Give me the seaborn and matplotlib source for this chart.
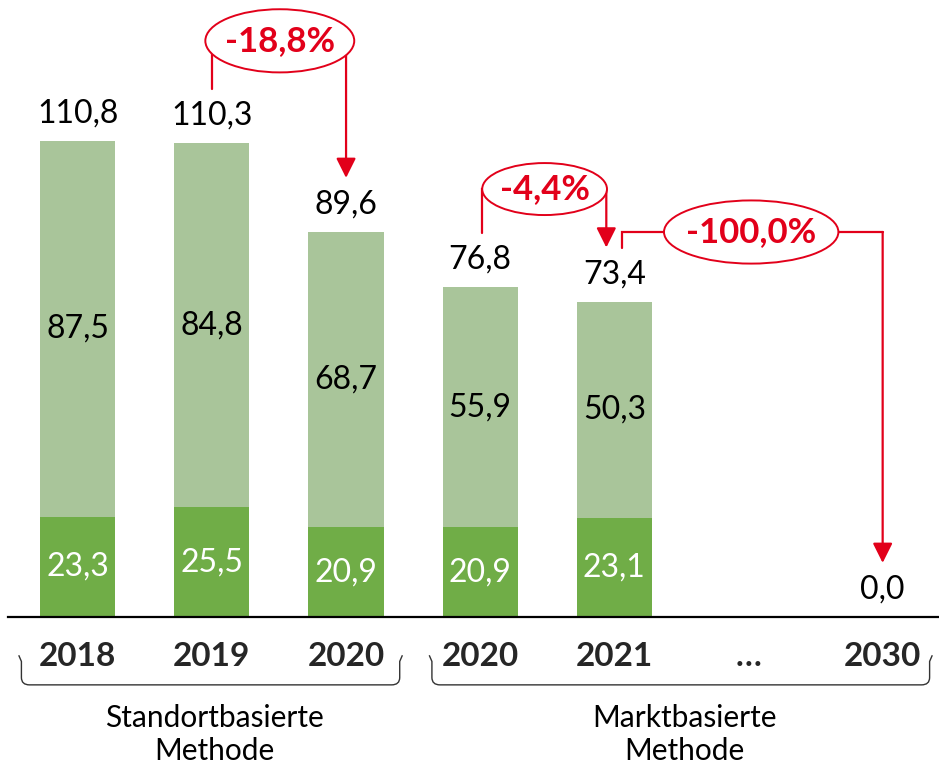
import matplotlib
matplotlib.use("Agg")
import matplotlib.pyplot as plt
from matplotlib.patches import Ellipse, PathPatch
from matplotlib.path import Path
import matplotlib.transforms as mtransforms
import seaborn as sns
import pandas as pd
import numpy as np

# Data
keys = ["2018", "2019", "2020 S", "2020 M", "2021", "gap", "2030"]
tick_labels = ["2018", "2019", "2020", "2020", "2021", "…", "2030"]
totals = [110.8, 110.3, 89.6, 76.8, 73.4, np.nan, 0.0]
dark_part = [23.3, 25.5, 20.9, 20.9, 23.1, np.nan, np.nan]
light_part = [87.5, 84.8, 68.7, 55.9, 50.3, np.nan, np.nan]
groups = ["Standortbasierte\nMethode", "Marktbasierte\nMethode"]
changes = ["-18,8%", "-4,4%", "-100,0%"]

LIGHT = "#A9C59A"
DARK = "#70AD47"
RED = "#E2001A"

df = pd.DataFrame({"key": keys, "total": totals, "dark": dark_part, "light": light_part})


def fmt(v):
    return f"{v:.1f}".replace(".", ",")


sns.set_style("white")
plt.rcParams["font.family"] = ["Lato", "DejaVu Sans"]

fig = plt.figure(figsize=(9.39, 7.63), dpi=100)
ax = fig.add_axes([8 / 939, 146 / 763, 931 / 939, 617 / 763])

sns.barplot(data=df, x="key", y="total", order=keys, color=LIGHT, saturation=1,
            width=0.56, linewidth=0, ax=ax)
sns.barplot(data=df, x="key", y="dark", order=keys, color=DARK, saturation=1,
            width=0.56, linewidth=0, ax=ax)

ax.set_xlim(-0.52, 6.42)
ax.set_ylim(0, 143.6)
ax.set_xlabel("")
ax.set_ylabel("")
ax.set_yticks([])
ax.set_xticks(range(len(keys)))
ax.set_xticklabels(tick_labels, fontsize=24, fontweight="bold")
ax.tick_params(axis="x", length=0, pad=18)
for s in ["top", "left", "right"]:
    ax.spines[s].set_visible(False)
ax.spines["bottom"].set_color("black")
ax.spines["bottom"].set_linewidth(1.6)

# value labels
for i, (t, d, l) in enumerate(zip(totals, dark_part, light_part)):
    if not np.isnan(t):
        ax.text(i, t + 6.3, fmt(t), ha="center", va="center", fontsize=23, color="black")
    if not np.isnan(d):
        ax.text(i, d / 2, fmt(d), ha="center", va="center", fontsize=23, color="white")
        ax.text(i, d + l / 2, fmt(l), ha="center", va="center", fontsize=23, color="black")

# change bridges: (x start, y start, x end, y tip, ellipse x, ellipse y, width, height)
bridges = [
    (1.0, totals[1] + 12.6, 2.0, totals[2] + 12.6, 1.506, 134.1, 1.11, 14.7),
    (3.01, totals[3] + 12.6, 3.94, totals[4] + 12.6, 3.48, 99.6, 0.93, 12.1),
    (4.06, totals[4] + 12.5, 6.0, totals[6] + 12.6, 5.02, 89.6, 1.30, 14.7),
]
for (x0, y0, x1, y1, ex, ey, ew, eh), label in zip(bridges, changes):
    ax.plot([x0, x0, x1], [y0, ey, ey], color=RED, lw=1.6, zorder=4,
            solid_joinstyle="miter")
    ax.annotate("", xy=(x1, y1), xytext=(x1, ey),
                arrowprops=dict(arrowstyle="-|>,head_length=0.6,head_width=0.3",
                                color=RED, lw=1.6, shrinkA=0, shrinkB=0,
                                mutation_scale=20),
                zorder=4)
    ax.add_patch(Ellipse((ex, ey), ew, eh, facecolor="white", edgecolor=RED,
                         lw=1.4, zorder=5))
    ax.text(ex, ey, label, ha="center", va="center", fontsize=25,
            fontweight="bold", color=RED, zorder=6)

# group braces below the year labels
trans = mtransforms.blended_transform_factory(ax.transData, ax.transAxes)
yt, yb = -0.062, -0.110
for (xa, xb), name in zip([(-0.42, 2.40), (2.64, 6.35)], groups):
    d = 0.06
    verts = [(xa - 0.02, yt), (xa, yt - 0.01), (xa, yb + 0.012), (xa, yb), (xa + d, yb),
             (xb - d, yb), (xb, yb), (xb, yb + 0.012), (xb, yt - 0.01), (xb + 0.02, yt)]
    codes = [Path.MOVETO, Path.LINETO, Path.LINETO, Path.CURVE3, Path.CURVE3,
             Path.LINETO, Path.CURVE3, Path.CURVE3, Path.LINETO, Path.LINETO]
    ax.add_patch(PathPatch(Path(verts, codes), transform=trans, fill=False,
                           edgecolor="#333333", lw=1.0, clip_on=False))
    ax.text((xa + xb) / 2 + 0.03, -0.19, name, transform=trans, ha="center",
            va="center", fontsize=21.5, linespacing=1.2, color="black")

fig.savefig("out.png", dpi=100)
